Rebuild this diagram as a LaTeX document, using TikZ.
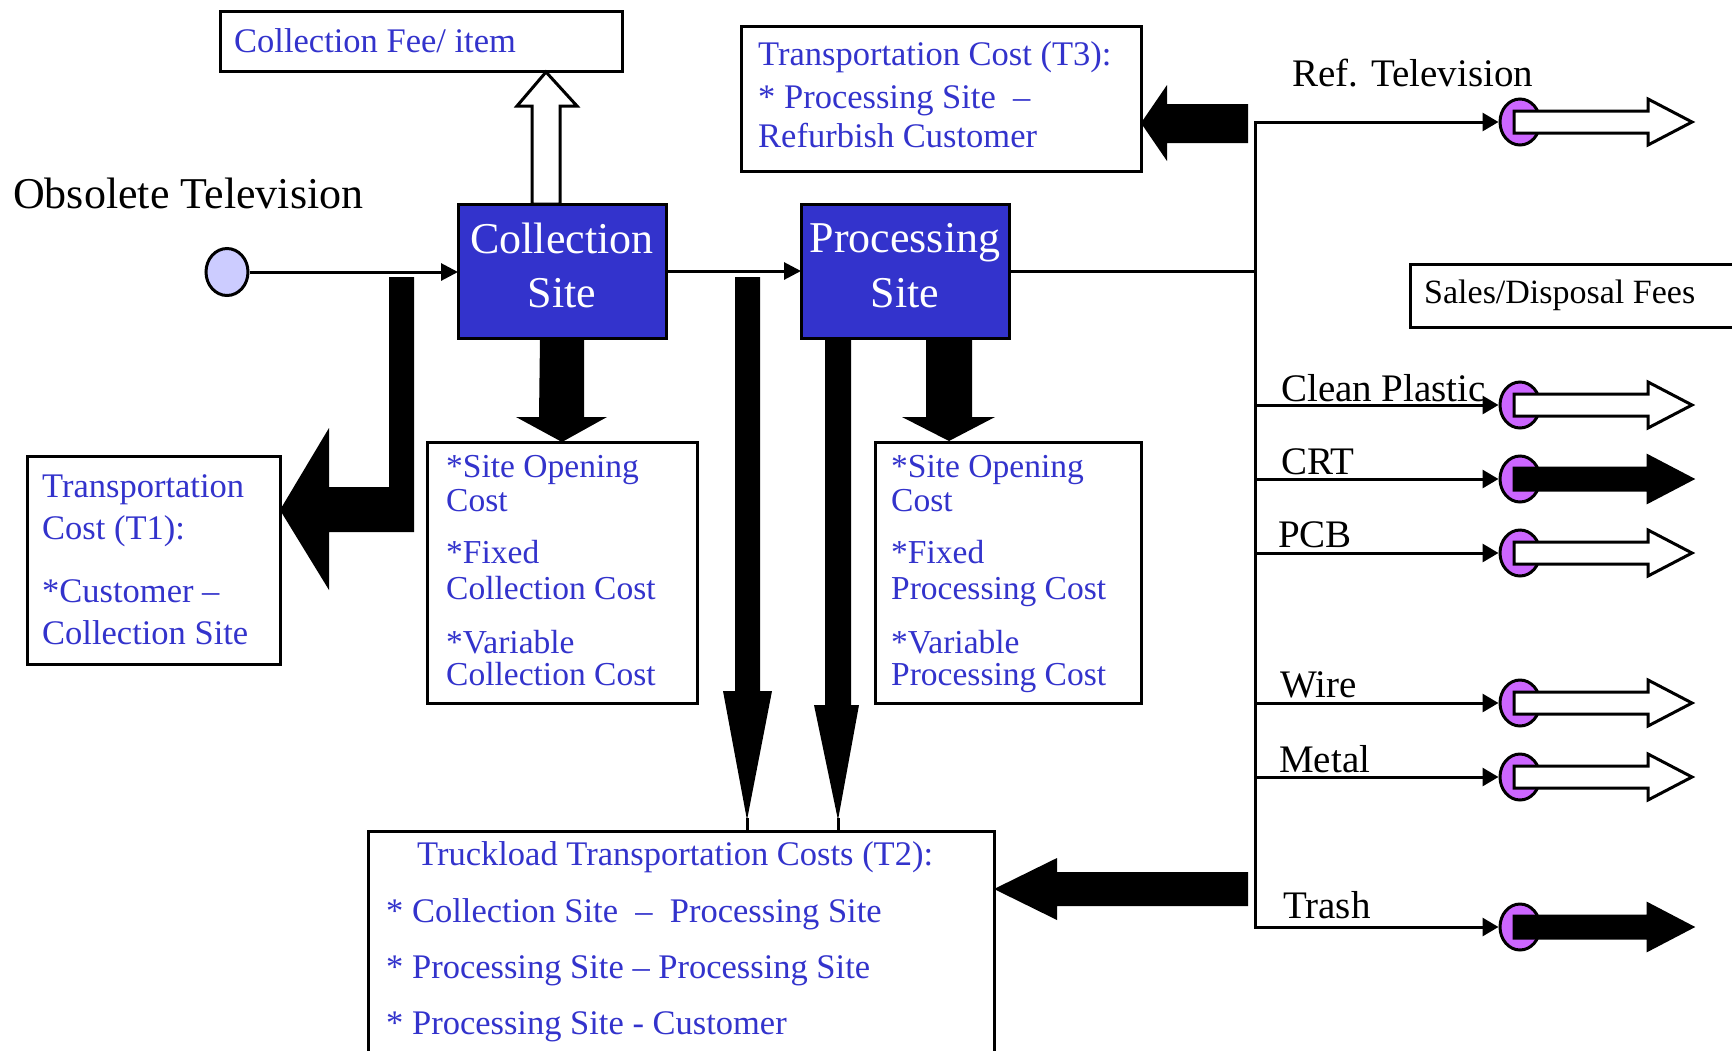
\documentclass[tikz,border=0pt]{standalone}
\usepackage{fontspec}
\setmainfont{Liberation Serif}
\usetikzlibrary{arrows.meta,shapes.geometric,calc}
\definecolor{siteblue}{RGB}{51,51,204}
\definecolor{srclav}{RGB}{204,204,255}
\definecolor{outviolet}{RGB}{204,102,255}

\begin{document}
\begin{tikzpicture}[x=1pt,y=-1pt,
  box/.style={draw=black, line width=3pt, inner sep=0pt, outer sep=0pt, anchor=north west},
  sitebox/.style={box, fill=siteblue},
  bluetext/.style={anchor=base west, inner sep=0pt, text=siteblue, font=\fontsize{34.5}{36}\selectfont},
  costtext/.style={bluetext, font=\fontsize{33.5}{34}\selectfont},
  sitetext/.style={anchor=base, inner sep=0pt, text=white, font=\fontsize{44}{46}\selectfont},
  blacktext/.style={anchor=base west, inner sep=0pt, text=black, font=\fontsize{39}{40}\selectfont},
  wire/.style={line width=3pt},
  flow/.style={wire, -{Triangle[length=17pt,width=17pt]}},
  branch/.style={wire, -{Triangle[length=16pt,width=18pt]}},
  block/.style={fill=black},
  hollowblock/.style={draw=black, line width=3pt},
  outdot/.style={ellipse, draw=black, line width=3pt, fill=outviolet,
    minimum width=40pt, minimum height=46pt, inner sep=0pt},
]
\useasboundingbox (0,0) rectangle (1732,1050);
\fill[white] (0,0) rectangle (1732,1050);

% ---------- boxes ----------
\node[box, minimum width=402pt, minimum height=60pt] (cfee) at (220,11) {};
\node[box, minimum width=400pt, minimum height=145pt] (t3box) at (741,26) {};
\node[box, minimum width=253pt, minimum height=208pt] (t1box) at (27,456) {};
\node[box, minimum width=270pt, minimum height=261pt] (ccost) at (427,442) {};
\node[box, minimum width=266pt, minimum height=261pt] (pcost) at (875,442) {};
\node[box, minimum width=340pt, minimum height=63pt] (sales) at (1410,264) {};
\node[box, minimum width=626pt, minimum height=300pt] (t2box) at (368,831) {};

% collection fee (hollow block arrow up)
\draw[hollowblock, fill=white] (532,204) -- (532,106) -- (517,106) -- (546,72)
  -- (577,106) -- (560,106) -- (560,204) -- cycle;

% ---------- sites ----------
\node[sitebox, minimum width=208pt, minimum height=134pt] (csite) at (458,204) {};
\node[sitebox, minimum width=208pt, minimum height=134pt] (psite) at (801,204) {};
\node[sitetext] (csitea) at (562,253) {Collection};
\node[sitetext] (csiteb) at (562,307) {Site};
\node[sitetext] (psitea) at (905,252) {Processing};
\node[sitetext] (psiteb) at (905,307) {Site};

% source
\node[ellipse, draw=black, line width=3pt, fill=srclav, minimum width=42pt,
  minimum height=47pt, inner sep=0pt] (src) at (227,272) {};
\node[anchor=base west, inner sep=0pt, font=\fontsize{44}{46}\selectfont] (srclbl)
  at (13,208) {Obsolete Television};

% main flow
\draw[flow] (src.east) -- (src.east -| csite.west);
\draw[flow] (csite.east) -- (psite.west);
\coordinate (trunktop) at (1255,122);
\coordinate (trunkbot) at (1255,927);
\draw[wire] (psite.east) -- (psite.east -| trunktop);
\draw[wire, line cap=rect] (trunktop) -- (trunkbot);

% ---------- outputs ----------
\foreach \yy/\nm/\lx/\lb/\txt/\fl in {
  122/reftv/1292/86/{Ref. Television}/white,
  405/plastic/1281/401/{Clean Plastic}/white,
  479/crt/1281/474/CRT/black,
  553/pcb/1278/547/PCB/white,
  703/wire/1280/697/Wire/white,
  777/metal/1279/772/Metal/white,
  927/trash/1283/918/Trash/black}{
  \node[outdot] (out\nm) at (1520,\yy) {};
  \draw[branch] (out\nm.west -| trunktop) -- (out\nm.west);
  \draw[hollowblock, fill=\fl] (1514,\yy-11) -- (1648,\yy-11) -- (1648,\yy-23)
    -- (1692,\yy) -- (1648,\yy+23) -- (1648,\yy+11) -- (1514,\yy+11) -- cycle;
  \node[blacktext] (lbl\nm) at (\lx,\lb) {\txt};
}

% ---------- cost block arrows ----------
\coordinate (t1tiprow) at (0,510);
\coordinate (t2tiprow) at (0,889);
\coordinate (t3tiprow) at (0,123);
\coordinate (t2ltip) at (747,818);
\coordinate (t2rtip) at (838,818);
% customer -> collection site (T1)
\fill[block] (389,277) -- (414,277) -- (414,532) -- (329,532) -- (329,590)
  -- (t1box.east |- t1tiprow) -- (329,428) -- (329,487) -- (389,487) -- cycle;
% collection site costs
\fill[block] ($(csite.south)+(-22,0)$) -- ($(csite.south)+(22,0)$) -- (584,417)
  -- (607,417) -- (ccost.north) -- (516,417) -- (539,417) -- cycle;
% processing site costs
\fill[block] ($(psite.south)+(21,0)$) -- ($(psite.south)+(67,0)$) -- (972,417)
  -- (995,417) -- (949,441) -- (902,417) -- (926,417) -- cycle;
% truckload arrows (T2)
\fill[block] (735,277) -- (760,277) -- (760,691) -- (772,691) -- (747,820)
  -- (723,691) -- (735,691) -- cycle;
\draw[wire] (t2ltip) -- (t2ltip |- t2box.north);
\fill[block] (825,338) -- (851,338) -- (851,705) -- (859,705) -- (838,820)
  -- (814,705) -- (825,705) -- cycle;
\draw[wire] (t2rtip) -- (t2rtip |- t2box.north);
\fill[block] (1248,872) -- (1248,906) -- (1057,906) -- (1057,920)
  -- (t2box.east |- t2tiprow) -- (1057,858) -- (1057,872) -- cycle;
% refurbish (T3)
\fill[block] (1248,104) -- (1248,143) -- (1167,143) -- (1167,161)
  -- (t3box.east |- t3tiprow) -- (1167,85) -- (1167,104) -- cycle;

% ---------- texts ----------
\node[bluetext] (cfeetxt) at (234,52) {Collection Fee/ item};
\node[anchor=base west, inner sep=0pt, font=\fontsize{34}{36}\selectfont] (salestxt)
  at (1424,303) {Sales/Disposal Fees};

\node[bluetext] (t3a) at (758,65) {Transportation Cost (T3):};
\node[bluetext] (t3b) at (758,108) {* Processing Site\ \ –};
\node[bluetext] (t3c) at (758,147) {Refurbish Customer};

\node[bluetext] (t1a) at (42,497) {Transportation};
\node[bluetext] (t1b) at (42,539) {Cost (T1):};
\node[bluetext] (t1c) at (42,602) {*Customer –};
\node[bluetext] (t1d) at (42,644) {Collection Site};

\node[costtext] (cca) at (446,477) {*Site Opening};
\node[costtext] (ccb) at (446,511) {Cost};
\node[costtext] (ccc) at (446,563) {*Fixed};
\node[costtext] (ccd) at (446,599) {Collection Cost};
\node[costtext] (cce) at (446,653) {*Variable};
\node[costtext] (ccf) at (446,685) {Collection Cost};

\node[costtext] (pca) at (891,477) {*Site Opening};
\node[costtext] (pcb) at (891,511) {Cost};
\node[costtext] (pcc) at (891,563) {*Fixed};
\node[costtext] (pcd) at (891,599) {Processing Cost};
\node[costtext] (pce) at (891,653) {*Variable};
\node[costtext] (pcf) at (891,685) {Processing Cost};

\node[bluetext] (t2a) at (417,865) {Truckload Transportation Costs (T2):};
\node[bluetext] (t2b) at (386,922) {* Collection Site\ \ –\ \ Processing Site};
\node[bluetext] (t2c) at (386,978) {* Processing Site – Processing Site};
\node[bluetext] (t2d) at (386,1034) {* Processing Site - Customer};
\end{tikzpicture}
\end{document}
